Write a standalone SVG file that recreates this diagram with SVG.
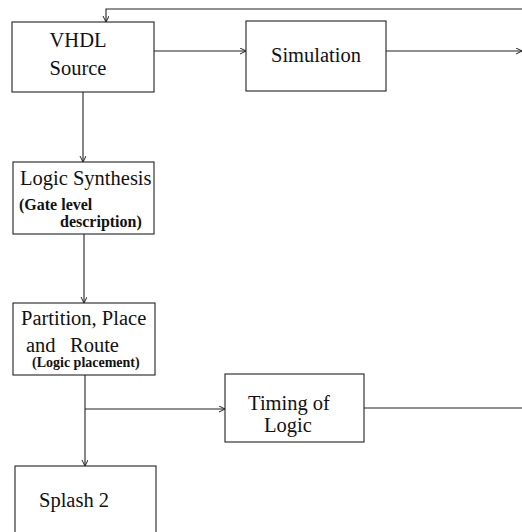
<svg xmlns="http://www.w3.org/2000/svg" width="522" height="532" viewBox="0 0 522 532">
  <style>
    .box { fill: #ffffff; stroke: #222222; stroke-width: 1.1; }
    .lbl { font-size: 20.5px; fill: #111111; }
    .sub { font-weight: bold; fill: #111111; }
    .mid { text-anchor: middle; }
    .wire { fill: none; stroke: #222222; stroke-width: 1.1; }
  </style>
  <defs>
    <marker id="arrow" markerUnits="userSpaceOnUse" markerWidth="8" markerHeight="8" refX="6" refY="3" orient="auto">
      <path d="M0,0 L6,3 L0,6" fill="none" stroke="#222222" stroke-width="1"/>
    </marker>
  </defs>
  <rect width="522" height="532" fill="#ffffff"/>

  <g id="connectors">
    <path class="wire" d="M522,9 H106 V22" marker-end="url(#arrow)"/>
    <path class="wire" d="M154,51 H246" marker-end="url(#arrow)"/>
    <path class="wire" d="M386,51 H522" marker-end="url(#arrow)"/>
    <path class="wire" d="M83,92 V162" marker-end="url(#arrow)"/>
    <path class="wire" d="M84,234 V303" marker-end="url(#arrow)"/>
    <path class="wire" d="M85,375 V466" marker-end="url(#arrow)"/>
    <path class="wire" d="M85,409 H225" marker-end="url(#arrow)"/>
    <path class="wire" d="M364,408 H522"/>
  </g>

  <g font-family="Liberation Serif, DejaVu Serif, serif">
    <g id="vhdl-source">
      <rect class="box" x="12" y="22" width="142" height="70"/>
      <text class="lbl mid" x="78" y="47">VHDL</text>
      <text class="lbl mid" x="78" y="75">Source</text>
    </g>

    <g id="simulation">
      <rect class="box" x="246" y="21" width="140" height="70"/>
      <text class="lbl mid" x="316" y="62">Simulation</text>
    </g>

    <g id="logic-synthesis">
      <rect class="box" x="13" y="162" width="141" height="72"/>
      <text class="lbl" x="20" y="185">Logic Synthesis</text>
      <text class="sub" x="19" y="210" font-size="16">(Gate level</text>
      <text class="sub" x="60" y="227" font-size="16">description)</text>
    </g>

    <g id="partition-place-route">
      <rect class="box" x="13" y="303" width="142" height="72"/>
      <text class="lbl" x="21" y="325">Partition, Place</text>
      <text class="lbl" y="352"><tspan x="26">and</tspan><tspan x="70">Route</tspan></text>
      <text class="sub" x="32" y="367" font-size="14">(Logic placement)</text>
    </g>

    <g id="timing-of-logic">
      <rect class="box" x="225" y="374" width="139" height="68"/>
      <text class="lbl mid" x="289" y="410">Timing of</text>
      <text class="lbl mid" x="288" y="432">Logic</text>
    </g>

    <g id="splash-2">
      <rect class="box" x="15" y="466" width="141" height="80"/>
      <text class="lbl" x="39" y="507">Splash 2</text>
    </g>
  </g>
</svg>
